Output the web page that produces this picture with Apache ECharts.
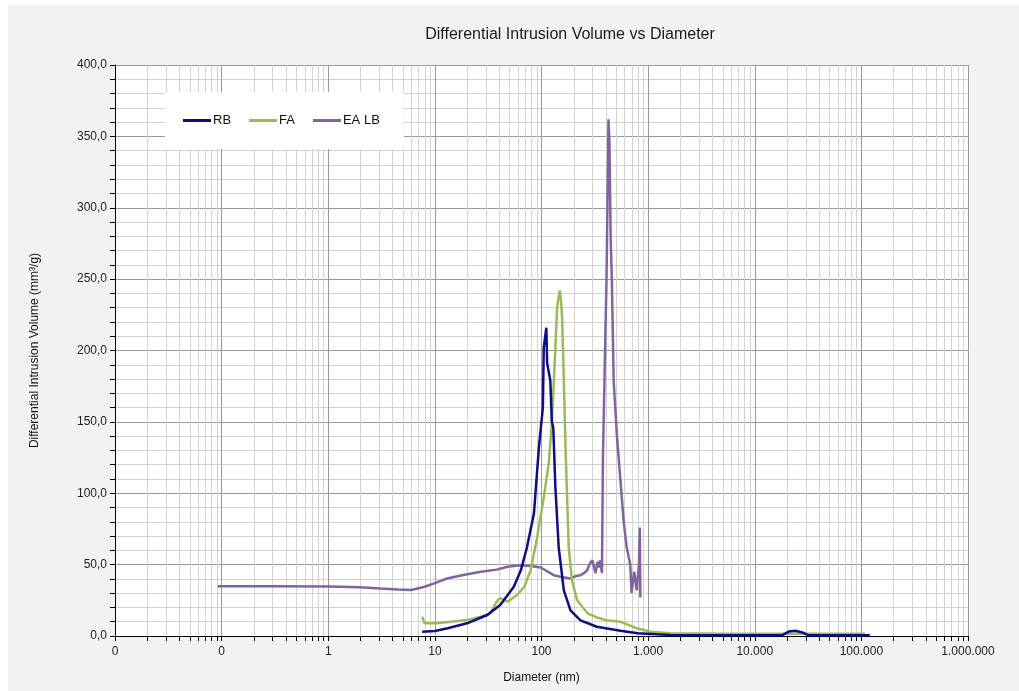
<!DOCTYPE html>
<html>
<head>
<meta charset="utf-8">
<script src="https://cdn.jsdelivr.net/npm/echarts@6/dist/echarts.min.js"></script>
<style>
  html, body { margin: 0; padding: 0; background: #fff; }
  #chart { position: absolute; left: 8px; top: 5px; width: 1011px; height: 686px; background: #f2f2f2; }
</style>
</head>
<body>
<div id="chart"></div>
<script>
// diameters in nm, volumes in mm³/g
const rbDiam = [7.6, 10, 13.2, 20, 31, 41, 55, 64, 73, 85, 94.5, 103, 105, 111, 113, 117, 121, 125, 129, 135, 145, 162, 187, 232, 330, 550, 800, 1600, 5000, 18000, 21000, 24000, 28000, 32000, 120000]
const rbVol = [3, 3.5, 5.4, 8.9, 14.7, 21.7, 34.5, 46, 62, 86, 132, 160, 202, 216, 191, 185, 179, 150, 146, 104, 62, 32, 18, 11, 6.5, 3.7, 2, 0.7, 0.5, 0.5, 3.2, 3.7, 2.5, 0.5, 0.5]

const faDiam = [7.6, 8.0, 10.5, 20, 27, 33, 38.7, 41, 48, 59, 69, 79, 90, 105, 117, 125, 135, 140, 148, 152, 156, 162, 168, 180, 193, 216, 270, 330, 407, 550, 787, 1050, 1600, 5000, 50000, 108000]
const faVol = [13.5, 9, 8.9, 11.2, 13.5, 15.9, 25, 26.5, 24, 28.7, 34.5, 46, 67, 97, 121, 149, 202, 230, 242, 236, 223, 179, 132, 62, 39, 25, 15.9, 13, 11, 10, 5.4, 3, 1.9, 1.5, 1.5, 1.5]

const eaDiam = [0.092, 0.3, 1.0, 2.0, 3.1, 4.5, 6.0, 8.0, 10, 13, 18, 27, 38, 48, 63, 80, 98, 115, 130, 150, 187, 210, 232, 250, 268, 285, 300, 321, 335, 345, 355, 369, 377, 395, 407, 415, 425, 434, 445, 457, 475, 510, 550, 590, 630, 680, 700, 740, 780, 820, 835, 846]
const eaVol = [34.8, 34.8, 34.7, 34.2, 33.3, 32.6, 32.2, 34.5, 37, 40.3, 42.5, 45, 46.5, 48.5, 49.6, 49, 48, 45, 42.6, 41.5, 40.3, 42, 42.6, 44, 46, 51, 53, 44, 52, 48, 53, 44, 125, 202, 249, 300, 362, 345, 280, 249, 179, 140, 109, 80, 62, 50, 30, 45, 32, 50, 76, 27]

const xTickLabels = ['0', '0', '1', '10', '100', '1.000', '10.000', '100.000', '1.000.000']
const decades = [0.01, 0.1, 1, 10, 100, 1000, 10000, 100000]

// minor log gridline positions (2..9 in every decade)
const minorDiam = []
decades.forEach(function (d) {
  for (let k = 2; k <= 9; k++) minorDiam.push([d * k, 0])
})

const zip = (xs, ys) => xs.map((x, i) => [x, ys[i]])

const chart = echarts.init(document.getElementById('chart'))
const font = 'Liberation Sans, Arial, sans-serif'

chart.setOption({
  animation: false,
  textStyle: { fontFamily: font },
  title: {
    text: 'Differential Intrusion Volume vs Diameter',
    left: 557,
    top: 17,
    textAlign: 'center',
    textStyle: { fontSize: 16, fontWeight: 'normal', color: '#1a1a1a', fontFamily: font },
  },
  legend: {
    data: ['RB', 'FA', 'EA LB'],
    left: 157,
    top: 87,
    padding: [22, 24, 22, 18],
    backgroundColor: '#fff',
    icon: 'rect',
    itemWidth: 28,
    itemHeight: 3,
    itemGap: 18,
    textStyle: { fontSize: 13, color: '#111', padding: [0, 0, 0, -3] },
  },
  grid: {
    left: 107,
    right: 51,
    top: 60,
    bottom: 55,
    show: true,
    backgroundColor: '#fff',
    borderWidth: 0,
  },
  xAxis: {
    type: 'log',
    logBase: 10,
    min: 0.01,
    max: 1000000,
    splitNumber: 8,
    name: 'Diameter (nm)',
    nameLocation: 'middle',
    nameGap: 36,
    nameTextStyle: { fontSize: 12, color: '#111' },
    axisLine: { show: true, onZero: false, lineStyle: { color: '#000', width: 1 } },
    axisTick: { show: true, length: 5, lineStyle: { color: '#000' } },
    axisLabel: {
      fontSize: 12,
      color: '#222',
      margin: 10,
      formatter: function (v) {
        const e = Math.round(Math.log10(v))
        return xTickLabels[e + 2] !== undefined ? xTickLabels[e + 2] : ''
      },
    },
    splitLine: { show: true, lineStyle: { color: '#999', width: 1 } },
  },
  yAxis: {
    type: 'value',
    min: 0,
    max: 400,
    interval: 50,
    name: 'Differential Intrusion Volume (mm³/g)',
    nameLocation: 'middle',
    nameGap: 74,
    nameTextStyle: { fontSize: 12, color: '#111' },
    axisLine: { show: true, lineStyle: { color: '#000', width: 1 } },
    axisTick: { show: true, length: 5, lineStyle: { color: '#000' } },
    minorTick: { show: true, splitNumber: 5, length: 5, lineStyle: { color: '#000' } },
    axisLabel: {
      fontSize: 12,
      color: '#222',
      margin: 8,
      formatter: function (v) { return v.toFixed(1).replace('.', ',') },
    },
    splitLine: { show: true, lineStyle: { color: '#999', width: 1 } },
    minorSplitLine: { show: true, lineStyle: { color: '#d2d2d2', width: 1 } },
  },
  series: [
    {
      type: 'custom',
      name: 'minor',
      silent: true,
      z: 1,
      data: minorDiam,
      encode: { x: 0, y: 1 },
      renderItem: function (params, api) {
        const pt = api.coord([api.value(0), 0])
        const cs = params.coordSys
        const x = Math.round(pt[0]) + 0.5
        const bottom = cs.y + cs.height
        return {
          type: 'group',
          children: [
            { type: 'line', shape: { x1: x, y1: cs.y, x2: x, y2: bottom }, style: { stroke: '#d2d2d2', lineWidth: 1 } },
            { type: 'line', shape: { x1: x, y1: bottom, x2: x, y2: bottom + 5 }, style: { stroke: '#000', lineWidth: 1 } },
          ],
        }
      },
    },
    {
      name: 'RB',
      type: 'line',
      showSymbol: false,
      z: 4,
      data: zip(rbDiam, rbVol),
      lineStyle: { color: '#0d0d84', width: 2.5 },
      itemStyle: { color: '#0d0d84' },
    },
    {
      name: 'FA',
      type: 'line',
      showSymbol: false,
      z: 3,
      data: zip(faDiam, faVol),
      lineStyle: { color: '#9bbb59', width: 2.5 },
      itemStyle: { color: '#9bbb59' },
    },
    {
      name: 'EA LB',
      type: 'line',
      showSymbol: false,
      z: 2,
      data: zip(eaDiam, eaVol),
      lineStyle: { color: '#8064a2', width: 2.5 },
      itemStyle: { color: '#8064a2' },
    },
  ],
})
</script>
</body>
</html>
